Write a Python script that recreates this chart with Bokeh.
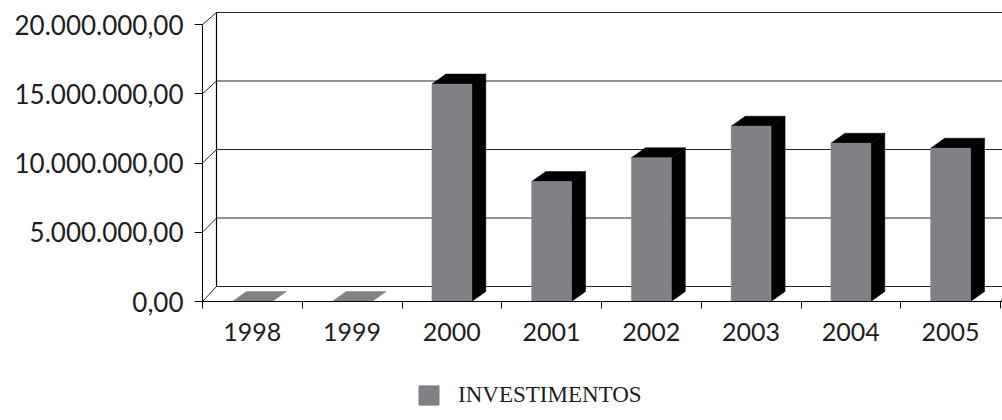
from bokeh.plotting import figure
from bokeh.layouts import column
from bokeh.models import Range1d, FixedTicker, LinearAxis, Legend, LegendItem, ColumnDataSource
from bokeh.embed import file_html
from bokeh.resources import INLINE

# ---------------- data ----------------
years = ["1998", "1999", "2000", "2001", "2002", "2003", "2004", "2005"]
investimentos = [0, 0, 15700000, 8660000, 10380000, 12660000, 11430000, 11070000]
y_ticks = [0, 5000000, 10000000, 15000000, 20000000]
y_tick_labels = ["0,00", "5.000.000,00", "10.000.000,00", "15.000.000,00", "20.000.000,00"]
series_name = "INVESTIMENTOS"

# ---------------- geometry (pixels -> data units) ----------------
PX_PER_CAT = 99.75
PX_PER_VAL = 277 / 20000000
FRAME_W, FRAME_H = 800, 301
x_end = FRAME_W / PX_PER_CAT
y_end = FRAME_H / PX_PER_VAL

wall_dx = 14 / PX_PER_CAT
wall_dy0 = 15 / PX_PER_VAL          # back floor offset
wall_scale = 274 / 277              # back wall slightly shorter (perspective)
bar_w = 0.40
bar_dx = 14 / PX_PER_CAT
bar_dy = 10 / PX_PER_VAL

GRAY = "#808085"
INK = "#1e1e1e"
LINE = "#262626"

p = figure(width=1002, height=360, x_range=Range1d(0, x_end), y_range=Range1d(0, y_end),
           output_backend="svg", toolbar_location=None,
           min_border_left=202, min_border_right=0, min_border_top=0, min_border_bottom=59,
           x_axis_type=None, y_axis_type=None)
p.outline_line_color = None
p.xgrid.visible = False
p.ygrid.visible = False
p.background_fill_color = "white"

# ---------------- walls ----------------
back_y = [v * wall_scale + wall_dy0 for v in y_ticks]
p.segment(x0=[wall_dx] * len(y_ticks), y0=back_y, x1=[x_end] * len(y_ticks), y1=back_y,
          line_color=LINE, line_width=1)
p.segment(x0=[0] * len(y_ticks), y0=y_ticks, x1=[wall_dx] * len(y_ticks), y1=back_y,
          line_color=LINE, line_width=1)
p.segment(x0=[wall_dx], y0=[back_y[0]], x1=[wall_dx], y1=[back_y[-1]],
          line_color="black", line_width=1.2)
n = len(years)
p.segment(x0=[n], y0=[0], x1=[n + wall_dx], y1=[back_y[0]], line_color=LINE, line_width=1)

# ---------------- bars ----------------
centers = [i + 0.5 for i in range(n)]
lefts = [c - bar_w / 2 for c in centers]
rights = [c + bar_w / 2 for c in centers]

side_xs, side_ys, top_xs, top_ys, top_cols = [], [], [], [], []
for l, r, v in zip(lefts, rights, investimentos):
    if v > 0:
        side_xs.append([r, r + bar_dx, r + bar_dx, r])
        side_ys.append([0, bar_dy, v + bar_dy, v])
    top_xs.append([l, r, r + bar_dx, l + bar_dx])
    top_ys.append([v, v, v + bar_dy, v + bar_dy])
    top_cols.append("black" if v > 0 else GRAY)

p.patches(side_xs, side_ys, fill_color="black", line_color="black", line_width=0.5)
p.patches(xs="xs", ys="ys", fill_color="c", line_color="c", line_width=0.5,
          source=ColumnDataSource(dict(xs=top_xs, ys=top_ys, c=top_cols)))
p.quad(left=lefts, right=rights, bottom=[0] * n, top=investimentos,
       fill_color=GRAY, line_color=GRAY, line_width=0.5)

# ---------------- axes ----------------
yaxis = LinearAxis(ticker=FixedTicker(ticks=y_ticks), bounds=(0, 20000000),
                   major_label_overrides=dict(zip(y_ticks, y_tick_labels)))
yaxis.major_tick_out = 8
yaxis.major_tick_in = 0
yaxis.minor_tick_line_color = None
yaxis.major_label_standoff = 11
yaxis.major_label_text_font = "Lato"
yaxis.major_label_text_font_size = "26px"
yaxis.major_label_text_color = INK
yaxis.axis_line_color = "black"
yaxis.major_tick_line_color = "black"
p.add_layout(yaxis, "left")

xaxis = LinearAxis(ticker=FixedTicker(ticks=centers, minor_ticks=list(range(n + 1))),
                   major_label_overrides=dict(zip(centers, years)))
xaxis.major_tick_line_color = None
xaxis.major_tick_out = 0
xaxis.major_tick_in = 0
xaxis.minor_tick_out = 7
xaxis.minor_tick_in = 0
xaxis.minor_tick_line_color = "black"
xaxis.major_label_standoff = 14
xaxis.major_label_text_font = "Lato"
xaxis.major_label_text_font_size = "25px"
xaxis.major_label_text_color = INK
xaxis.axis_line_color = "black"
p.add_layout(xaxis, "below")

# ---------------- legend (separate strip below the chart, same frame columns) ----------------
lg = figure(width=1002, height=60, x_range=Range1d(0, x_end), y_range=Range1d(-2, -1),
            output_backend="svg", toolbar_location=None,
            min_border_left=202, min_border_right=0, min_border_top=0, min_border_bottom=0,
            x_axis_type=None, y_axis_type=None)
lg.outline_line_color = None
lg.xgrid.visible = False
lg.ygrid.visible = False
# same bar series (lies outside this strip's visible range) -> supplies the legend swatch
swatch = lg.quad(left=lefts, right=rights, bottom=[0] * n, top=investimentos,
                 fill_color=GRAY, line_color=GRAY)

legend = Legend(items=[LegendItem(label=series_name, renderers=[swatch])],
                location=(214, 12), orientation="horizontal")
legend.glyph_width = 25
legend.glyph_height = 24
legend.label_standoff = 17
legend.label_text_font = "Liberation Serif"
legend.label_text_font_size = "23px"
legend.label_text_color = INK
legend.border_line_color = None
legend.background_fill_alpha = 0
legend.padding = 0
legend.margin = 0
lg.add_layout(legend)

layout = column(p, lg, spacing=0)
open("out.html", "w").write(file_html(layout, INLINE))
